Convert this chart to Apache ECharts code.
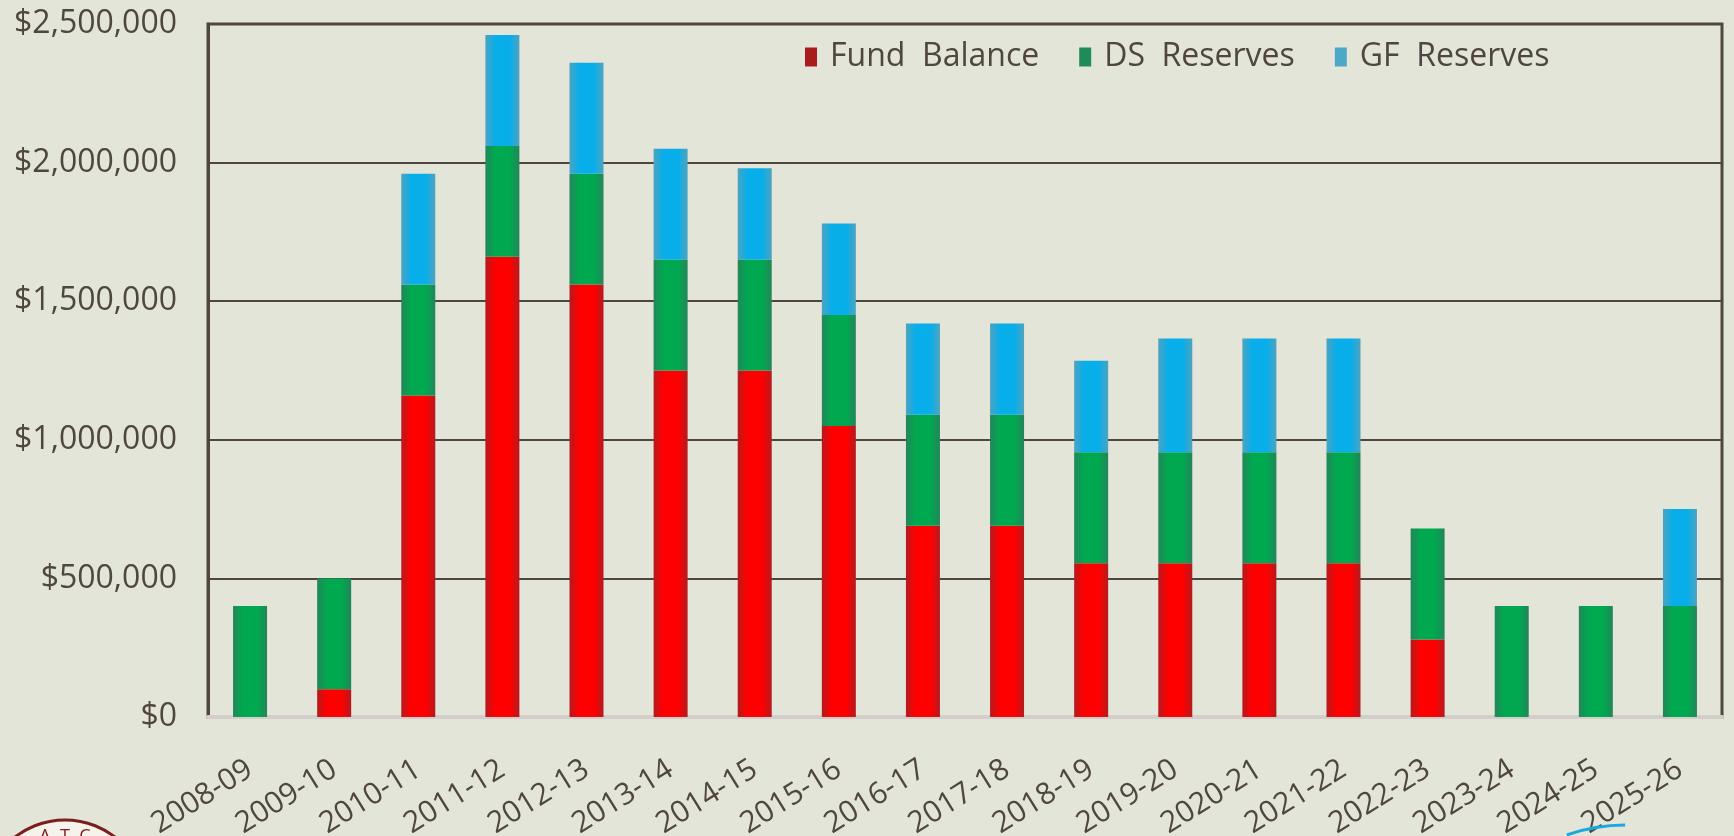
<!DOCTYPE html>
<html>
<head>
<meta charset="utf-8">
<script src="https://cdn.jsdelivr.net/npm/echarts@6/dist/echarts.min.js"></script>
<style>
html,body{margin:0;padding:0;background:#E3E5D9;}
#chart{width:1734px;height:836px;}
</style>
</head>
<body>
<div id="chart"></div>
<script>
const categories = ['2008-09','2009-10','2010-11','2011-12','2012-13','2013-14','2014-15','2015-16','2016-17','2017-18','2018-19','2019-20','2020-21','2021-22','2022-23','2023-24','2024-25','2025-26'];
const fundBalance = [0,100000,1160000,1660000,1560000,1250000,1250000,1050000,690000,690000,555000,555000,555000,555000,280000,0,0,0];
const dsReserves  = [400000,400000,400000,400000,400000,400000,400000,400000,400000,400000,400000,400000,400000,400000,400000,400000,400000,400000];
const gfReserves  = [0,0,400000,400000,400000,400000,330000,330000,330000,330000,330000,410000,410000,410000,0,0,0,350000];
const yTicks = [0,500000,1000000,1500000,2000000,2500000];

const txt = '#4F4642';
const font = 'Open Sans';

function grad(edge, center){
  return new echarts.graphic.LinearGradient(0,0,1,0,[
    {offset:0,color:edge},{offset:0.28,color:center},{offset:0.72,color:center},{offset:1,color:edge}
  ]);
}

const chart = echarts.init(document.getElementById('chart'), null, {renderer:'canvas'});
chart.setOption({
  backgroundColor:'#E3E5D9',
  animation:false,
  grid:{left:208,right:12,top:24,bottom:119,containLabel:false,outerBoundsMode:'none',
        show:true,borderColor:txt,borderWidth:3,backgroundColor:'transparent'},
  legend:{
    top:36,left:800,itemWidth:12,itemHeight:19,itemGap:40,icon:'rect',
    textStyle:{fontFamily:font,fontSize:32,color:txt,padding:[0,0,0,8]},
    formatter:n=>n.replace(' ','  '),
    data:[
      {name:'Fund Balance',itemStyle:{color:'#A81C1E'}},
      {name:'DS Reserves',itemStyle:{color:'#1F8B59'}},
      {name:'GF Reserves',itemStyle:{color:'#4BA8C6'}}
    ]
  },
  xAxis:{
    type:'category',data:categories,
    axisLine:{show:true,lineStyle:{color:'#D3CECA',width:4}},
    axisTick:{show:false},
    axisLabel:{rotate:32,margin:50,fontFamily:font,fontSize:30,color:txt,interval:0,hideOverlap:false}
  },
  yAxis:{
    type:'value',min:0,max:2500000,interval:500000,
    axisLine:{show:true,lineStyle:{color:txt,width:3}},
    axisTick:{show:false},
    splitLine:{show:true,lineStyle:{color:txt,width:2}},
    axisLabel:{margin:31,fontFamily:font,fontSize:32,color:txt,
      formatter:v=>yTicks.includes(v)?'$'+v.toLocaleString('en-US'):''}
  },
  series:[
    {name:'Fund Balance',type:'bar',stack:'t',barWidth:34,data:fundBalance,
     itemStyle:{color:grad('#B51A1E','#FF0000')}},
    {name:'DS Reserves',type:'bar',stack:'t',barWidth:34,data:dsReserves,
     itemStyle:{color:grad('#23865A','#00A84F')}},
    {name:'GF Reserves',type:'bar',stack:'t',barWidth:34,data:gfReserves,
     itemStyle:{color:grad('#4EA3C0','#08AEEA')}}
  ],
  graphic:[
    {type:'circle',shape:{cx:65,cy:902,r:82},style:{fill:'#F6F3EC',stroke:'#7B1E1E',lineWidth:3},z:100},
    {type:'text',x:65,y:828,style:{text:'A  T  C',fontSize:18,fill:'#7B1E1E',textAlign:'center',fontFamily:font},z:101},
    {type:'arc',shape:{cx:1625,cy:1000,r:175,startAngle:-1.91,endAngle:-1.57,clockwise:true},
     style:{stroke:'#1AA8E0',lineWidth:3,fill:null},z:100}
  ]
});
</script>
</body>
</html>
